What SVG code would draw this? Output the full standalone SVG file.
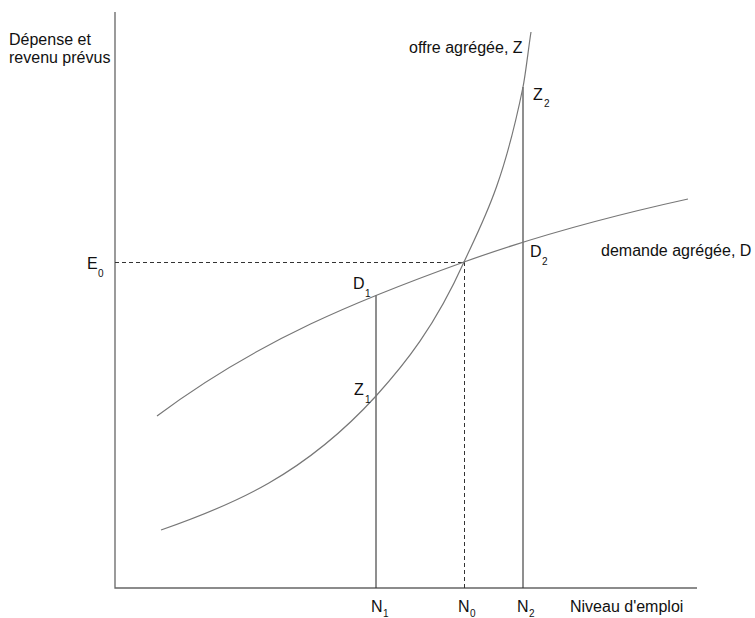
<svg xmlns="http://www.w3.org/2000/svg" width="755" height="618" viewBox="0 0 755 618">
<style>
text{font-family:"Liberation Sans",Arial,sans-serif;font-size:16px;fill:#111}
.sub{font-size:10px}
.axis{stroke:#666;stroke-width:1.3;fill:none}
.curve{stroke:#777;stroke-width:1.2;fill:none}
.vert{stroke:#333;stroke-width:1.1;fill:none}
.dash{stroke:#333;stroke-width:1;stroke-dasharray:4 3;fill:none}
</style>
<rect width="755" height="618" fill="#fff"/>
<g id="axes">
<path class="axis" d="M115,12 V588 H697"/>
</g>
<g id="connectors">
<path class="dash" d="M115,262.5 H464"/>
<path class="dash" d="M464.5,262 V588"/>
<path class="vert" d="M376,295 V588"/>
<path class="vert" d="M523,87 V588"/>
</g>
<g id="demande">
<path class="curve" d="M157,416 C259,339.5 362,298.7 464,262 C539,235 613,215.5 688,199"/>
<text x="601" y="256">demande agrégée, D</text>
</g>
<g id="offre">
<path class="curve" d="M161,530 C233,505 304,475 376,396 C405,364 435,326.5 464,262 C484,219 503,185 523,87 C525.7,73.5 528.6,47 531,32"/>
<text x="409" y="53">offre agrégée, Z</text>
</g>
<g id="ylabel">
<text x="9" y="45">Dépense et</text>
<text x="9" y="63">revenu prévus</text>
</g>
<g id="E0"><text x="87" y="269">E</text><text class="sub" x="98" y="277">0</text></g>
<g id="D1"><text x="353" y="289">D</text><text class="sub" x="365" y="297">1</text></g>
<g id="Z1"><text x="354" y="395">Z</text><text class="sub" x="365" y="403">1</text></g>
<g id="D2"><text x="530" y="257">D</text><text class="sub" x="542" y="265">2</text></g>
<g id="Z2"><text x="533" y="100">Z</text><text class="sub" x="544" y="107">2</text></g>
<g id="N1"><text x="371" y="612">N</text><text class="sub" x="383" y="617">1</text></g>
<g id="N0"><text x="458" y="612">N</text><text class="sub" x="470" y="617">0</text></g>
<g id="N2"><text x="517" y="612">N</text><text class="sub" x="529" y="617">2</text></g>
<g id="xlabel"><text x="570" y="612">Niveau d'emploi</text></g>
</svg>
